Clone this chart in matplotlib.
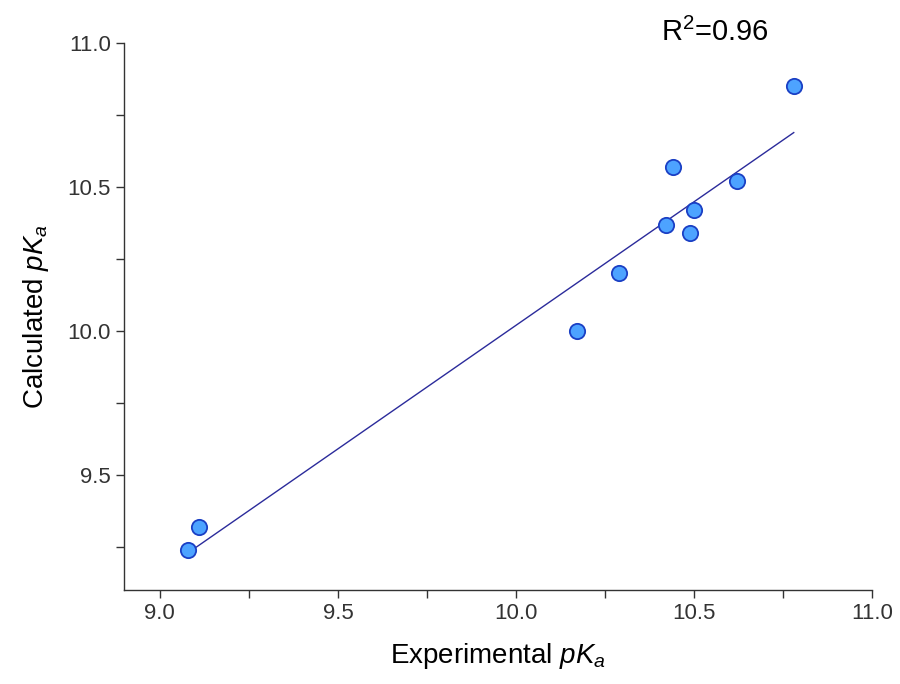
import numpy as np
import matplotlib
matplotlib.use('Agg')
import matplotlib.pyplot as plt
from matplotlib.ticker import MultipleLocator

exp_pka = [9.08, 9.11, 10.17, 10.29, 10.42, 10.44, 10.49, 10.50, 10.62, 10.78]
calc_pka = [9.24, 9.32, 10.00, 10.20, 10.37, 10.57, 10.34, 10.42, 10.52, 10.85]
r2_label = 'R$^2$=0.96'

plt.rcParams['font.family'] = ['Liberation Sans', 'DejaVu Sans']
plt.rcParams['mathtext.fontset'] = 'custom'
plt.rcParams['mathtext.rm'] = 'Liberation Sans'
plt.rcParams['mathtext.it'] = 'Liberation Sans:italic'

fig = plt.figure(figsize=(9, 6.84), dpi=100)
ax = fig.add_axes([0.138, 0.137, 0.831, 0.800])

x = np.array(exp_pka)
y = np.array(calc_pka)
slope, intercept = np.polyfit(x, y, 1)
xfit = np.array([x.min(), x.max()])
ax.plot(xfit, slope * xfit + intercept, color='#2b2b9b', lw=1.0, zorder=2)
ax.plot(x, y, 'o', ms=11, mfc='#4da3ff', mec='#1a3fc4', mew=1.3, zorder=3)

ax.set_xlim(8.9, 11.0)
ax.set_ylim(9.1, 11.0)
ax.xaxis.set_major_locator(MultipleLocator(0.5))
ax.xaxis.set_minor_locator(MultipleLocator(0.25))
ax.yaxis.set_major_locator(MultipleLocator(0.5))
ax.yaxis.set_minor_locator(MultipleLocator(0.25))
ax.xaxis.set_major_formatter(plt.FormatStrFormatter('%.1f'))
ax.yaxis.set_major_formatter(plt.FormatStrFormatter('%.1f'))

for s in ['top', 'right']:
    ax.spines[s].set_visible(False)
for s in ['left', 'bottom']:
    ax.spines[s].set_color('#333333')
    ax.spines[s].set_linewidth(1.0)

ax.tick_params(which='both', direction='out', color='#333333', width=1.0,
               labelsize=16, labelcolor='#333333')
ax.tick_params(which='major', length=6)
ax.tick_params(which='minor', length=6)

ax.set_xlabel('Experimental $pK_a$', fontsize=20, labelpad=12)
ax.set_ylabel('Calculated $pK_a$', fontsize=20, labelpad=12)

ax.text(0.79, 1.02, r2_label, transform=ax.transAxes, fontsize=21,
        ha='center', va='center')

fig.savefig('out.png', dpi=100)
